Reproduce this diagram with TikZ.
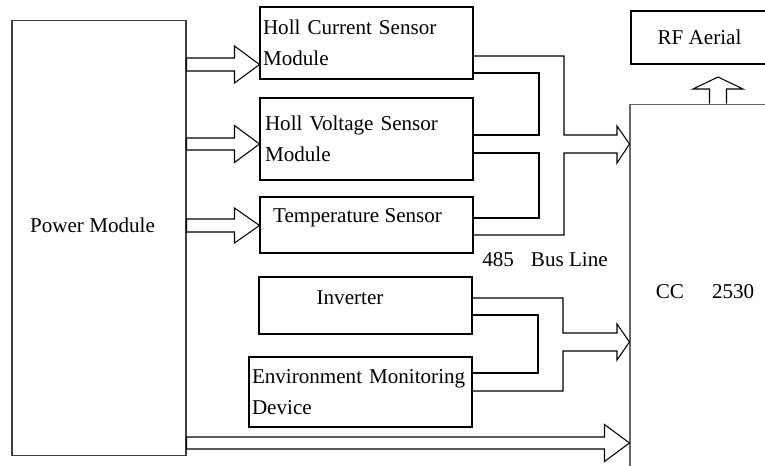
\documentclass[tikz,border=0pt]{standalone}
\usepackage{fontspec}
\setmainfont{Liberation Serif}
\usetikzlibrary{calc}

\tikzset{
  box/.style={draw, line width=0.6pt, inner sep=0pt, font=\fontsize{12}{17.5}\selectfont},
  txt/.style={font=\fontsize{12}{17.5}\selectfont},
  fatline/.style={draw, line width=0.6pt, line join=miter}
}

% hollow arrow: tail, tip, shaft half width, head half width, head length
\newcommand{\fatarrow}[5]{%
  \draw[fatline] (#2) -- ($(#2)+(-#5,-#4)$) -- ($(#2)+(-#5,-#3)$) -- ($(#1 |- #2)+(0,-#3)$)
    -- ($(#1 |- #2)+(0,#3)$) -- ($(#2)+(-#5,#3)$) -- ($(#2)+(-#5,#4)$) -- cycle;}

\begin{document}
\begin{tikzpicture}[x=0.02cm, y=-0.02cm]

  \useasboundingbox (0,0) rectangle (765,466);
  \clip (0,0) rectangle (765,466);

  % blocks
  \node[box, draw=black!75, minimum width=3.48cm, minimum height=8.72cm,
        label={[txt, xshift=-3.7pt, yshift=7.1pt]center:Power Module}] (pm) at (99,238) {};
  \node[box, minimum width=4.26cm, minimum height=1.44cm, text width=4.14cm, align=left]
        (hcs) at (366.5,43) {Holl Current Sensor\\Module};
  \node[box, minimum width=4.26cm, minimum height=1.64cm, text width=4.06cm, align=left]
        (hvs) at (366.5,139) {Holl Voltage Sensor\\Module};
  \node[box, minimum width=4.26cm, minimum height=1.12cm,
        label={[txt, xshift=-5.1pt, yshift=4pt]center:Temperature Sensor}] (ts) at (366.5,225) {};
  \node[box, minimum width=4.26cm, minimum height=1.14cm,
        label={[txt, xshift=-8.8pt, yshift=4.3pt]center:Inverter}] (inv) at (365.5,305.5) {};
  \node[box, minimum width=4.46cm, minimum height=1.4cm, text width=4.34cm, align=left]
        (emd) at (360.5,392) {Environment Monitoring\\Device};
  \node[box, minimum width=2.74cm, minimum height=1.06cm] (rf) at (699.5,37.5) {RF Aerial};
  \node[box, draw=black!60, minimum width=3cm, minimum height=7.52cm] (cc) at (705,292)
        {CC\hspace{16pt}2530};

  \node[txt] (bus) at (545,260) {485\hspace{9.7pt}Bus Line};

  % arrow tips
  \coordinate (t1) at (hcs.west |- 0,64.5);
  \coordinate (t2) at (hvs.west |- 0,144);
  \coordinate (t3) at (ts.west |- 0,225.5);
  \coordinate (t4) at (cc.west |- 0,443);
  \coordinate (b1) at (cc.west |- 0,144);
  \coordinate (b2) at (cc.west |- 0,342);
  \coordinate (aerialtip) at (718,77);

  % power supply
  \fatarrow{pm.east}{t1}{6.5}{18.5}{25}
  \fatarrow{pm.east}{t2}{6}{18.5}{25}
  \fatarrow{pm.east}{t3}{6.5}{17.5}{25}
  \fatarrow{pm.east}{t4}{6}{18.5}{25}

  % 485 bus
  \draw[fatline] (hcs.east |- 0,56) -| (564,135) -- (617,135) -- (617,126) -- (b1)
    -- (617,163) -- (617,153) -| (564,235) -- (ts.east |- 0,235);
  \draw[fatline] (hcs.east |- 0,73) -| (539,135) -- (hvs.east |- 0,135);
  \draw[fatline] (hvs.east |- 0,153) -| (539,218) -- (ts.east |- 0,218);

  \draw[fatline] (inv.east |- 0,298) -| (563,333) -- (617,333) -- (617,324) -- (b2)
    -- (617,360) -- (617,351) -| (563,391) -- (emd.east |- 0,391);
  \draw[fatline] (inv.east |- 0,315) -| (538,373) -- (emd.east |- 0,373);

  % to aerial
  \draw[fatline] (cc.north -| 709.5,0) -- (709.5,89) -- (693,89) -- (aerialtip)
    -- (743,89) -- (726.5,89) -- (cc.north -| 726.5,0);

\end{tikzpicture}
\end{document}
